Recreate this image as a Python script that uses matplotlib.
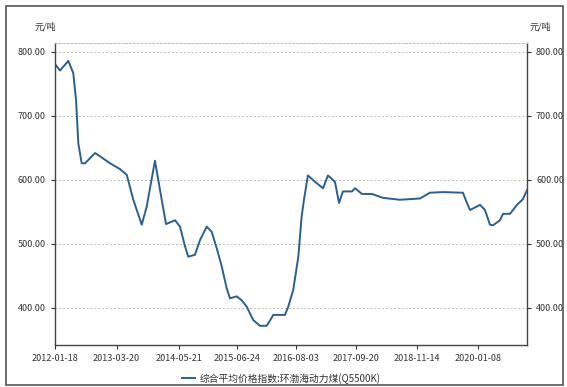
import numpy as np
import pandas as pd
import matplotlib
matplotlib.use("Agg")
import matplotlib.pyplot as plt
from matplotlib.patches import Rectangle

plt.rcParams['font.family'] = ['Noto Sans CJK SC', 'DejaVu Sans']

# data (approximate)
dates = [
    "2012-01-18", "2012-02-25", "2012-04-22", "2012-05-26", "2012-06-14",
    "2012-06-30", "2012-07-23", "2012-08-15", "2012-10-23", "2012-11-26",
    "2013-02-03", "2013-04-12", "2013-05-29", "2013-07-13", "2013-09-09",
    "2013-10-13", "2013-12-09", "2014-01-13", "2014-02-23", "2014-04-26",
    "2014-05-30", "2014-07-04", "2014-07-26", "2014-09-10", "2014-10-15",
    "2014-11-30", "2015-01-03", "2015-02-07", "2015-03-13", "2015-04-16",
    "2015-05-09", "2015-06-24", "2015-07-28", "2015-09-01", "2015-10-16",
    "2015-12-01", "2016-01-16", "2016-02-08", "2016-03-02", "2016-05-21",
    "2016-06-13", "2016-07-17", "2016-08-21", "2016-09-13", "2016-09-29",
    "2016-10-26", "2016-12-14", "2017-02-07", "2017-03-13", "2017-04-30",
    "2017-05-28", "2017-06-24", "2017-08-25", "2017-09-15", "2017-11-02",
    "2018-01-10", "2018-03-26", "2018-07-21", "2018-12-06", "2019-02-12",
    "2019-05-13", "2019-09-27", "2019-10-25", "2019-11-15", "2020-01-23",
    "2020-02-26", "2020-03-31", "2020-04-21", "2020-06-08", "2020-06-29",
    "2020-08-16", "2020-10-03", "2020-11-13", "2020-12-11",
]
prices = [
    782, 771, 786, 767, 725,
    657, 626, 626, 642, 637,
    626, 617, 608, 569, 530,
    558, 630, 584, 531, 537,
    527, 496, 480, 483, 506,
    527, 519, 493, 465, 431,
    415, 418, 412, 402, 381,
    372, 372, 380, 389, 389,
    402, 428, 480, 543, 569,
    607, 597, 587, 607, 597,
    564, 582, 582, 587, 578,
    578, 572, 569, 571, 580,
    581, 580, 564, 553, 561,
    553, 530, 529, 537, 547,
    547, 561, 570, 584,
]
tick_dates = ["2012-01-18", "2013-03-20", "2014-05-21", "2015-06-24",
              "2016-08-03", "2017-09-20", "2018-11-14", "2020-01-08"]
y_ticks = [400, 500, 600, 700, 800]
series_name = "综合平均价格指数:环渤海动力煤(Q5500K)"
unit = "元/吨"

d = pd.to_datetime(dates)
W, H = 567, 387
fig = plt.figure(figsize=(W / 100, H / 100), dpi=100)
ax = fig.add_axes([54.5 / W, 1 - 345 / H, (527 - 54.5) / W, (345 - 43) / H])

ax.plot(d, prices, color='#2c5f8e', lw=1.4, solid_joinstyle='round')
ax.set_xlim(d[0], d[-1])
ax.set_ylim(342, 814)

ax.set_yticks(y_ticks)
ax.yaxis.set_major_formatter(plt.FuncFormatter(lambda v, p: f"{v:.2f}"))
ax.set_xticks(pd.to_datetime(tick_dates))
ax.set_xticklabels(tick_dates)
ax.tick_params(axis='both', labelsize=6.5, colors='#333333', length=3, width=0.8)
ax.tick_params(axis='y', right=True, labelright=True)
for y in y_ticks:
    ax.axhline(y, color='#bbbbbb', lw=0.7, ls=(0, (2, 2)), zorder=0)

for s in ['left', 'right', 'bottom']:
    ax.spines[s].set_color('#444444')
    ax.spines[s].set_linewidth(1.0)
ax.spines['top'].set_color('#bbbbbb')
ax.spines['top'].set_linestyle((0, (2, 2)))
ax.spines['top'].set_linewidth(0.7)

fig.text(45 / W, 1 - 27 / H, unit, fontsize=6.5, ha='center', va='center', color='#333333')
fig.text(540 / W, 1 - 27 / H, unit, fontsize=6.5, ha='center', va='center', color='#333333')

# legend
leg = ax.legend([series_name], loc='center', bbox_to_anchor=(0.48, -0.11),
                frameon=False, fontsize=7, handlelength=1.3, handletextpad=0.5)
leg.get_texts()[0].set_color('#333333')

# outer frame
fig.patches.append(Rectangle((6 / W, 1 - 385 / H), 557 / W, 379 / H,
                             transform=fig.transFigure, fill=False,
                             edgecolor='#555555', lw=1.2))

fig.savefig('out.png', dpi=100)
